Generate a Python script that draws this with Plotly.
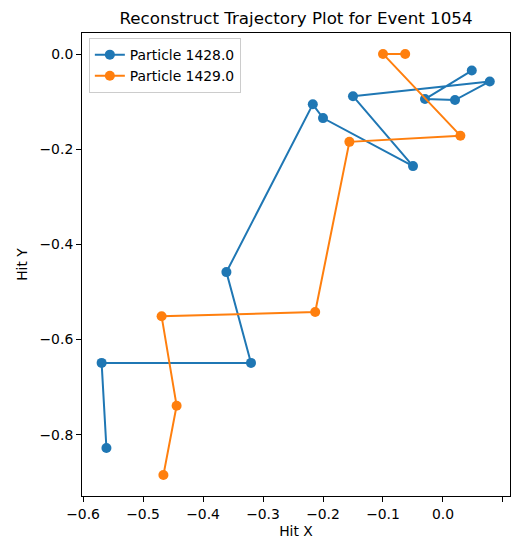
import plotly.graph_objects as go

# Reconstructed hit positions for each particle, in hit order
p1428_x = [-0.561, -0.569, -0.320, -0.361, -0.217, -0.200, -0.050, -0.150, 0.078, 0.020, -0.030, 0.048]
p1428_y = [-0.828, -0.649, -0.649, -0.458, -0.105, -0.134, -0.235, -0.088, -0.057, -0.096, -0.094, -0.034]

p1429_x = [-0.466, -0.444, -0.469, -0.213, -0.156, 0.029, -0.100, -0.063]
p1429_y = [-0.885, -0.739, -0.551, -0.542, -0.184, -0.171, 0.001, 0.001]

series = [
    ("Particle 1428.0", p1428_x, p1428_y, "#1f77b4"),
    ("Particle 1429.0", p1429_x, p1429_y, "#ff7f0e"),
]

x_ticks = [-0.6, -0.5, -0.4, -0.3, -0.2, -0.1, 0.0, 0.1]
y_ticks = [-0.8, -0.6, -0.4, -0.2, 0.0]

fig = go.Figure()
for name, xs, ys, color in series:
    fig.add_trace(go.Scatter(
        x=xs, y=ys, mode="lines+markers", name=name,
        line=dict(color=color, width=2),
        marker=dict(color=color, size=10),
    ))

font = "DejaVu Sans, sans-serif"
fs = 13.9
axis_common = dict(
    showgrid=False, zeroline=False, showline=True, mirror=True,
    linecolor="black", linewidth=1, ticks="outside", ticklen=5,
    tickwidth=1, tickcolor="black", tickformat=".1f",
    tickfont=dict(family=font, size=fs, color="black"),
)

fig.update_layout(
    width=512, height=539,
    margin=dict(l=82, r=2, t=33, b=43),
    paper_bgcolor="white", plot_bgcolor="white",
    title=dict(text="Reconstruct Trajectory Plot for Event 1054",
               x=(82 + 510) / 2 / 512, xanchor="center", y=1 - 18 / 539, yanchor="middle",
               font=dict(family=font, size=16.7, color="black")),
    xaxis=dict(range=[-0.6017, 0.1117], tickvals=x_ticks,
               title=dict(text="Hit X", font=dict(family=font, size=fs, color="black"), standoff=5),
               **axis_common),
    yaxis=dict(range=[-0.929, 0.045], tickvals=y_ticks,
               title=dict(text="Hit Y", font=dict(family=font, size=fs, color="black"), standoff=8),
               **axis_common),
    legend=dict(x=0.016, y=0.989, xanchor="left", yanchor="top",
                bgcolor="white", bordercolor="#cccccc", borderwidth=1,
                font=dict(family=font, size=fs, color="black")),
    showlegend=True,
)

fig.write_html("out.html")
